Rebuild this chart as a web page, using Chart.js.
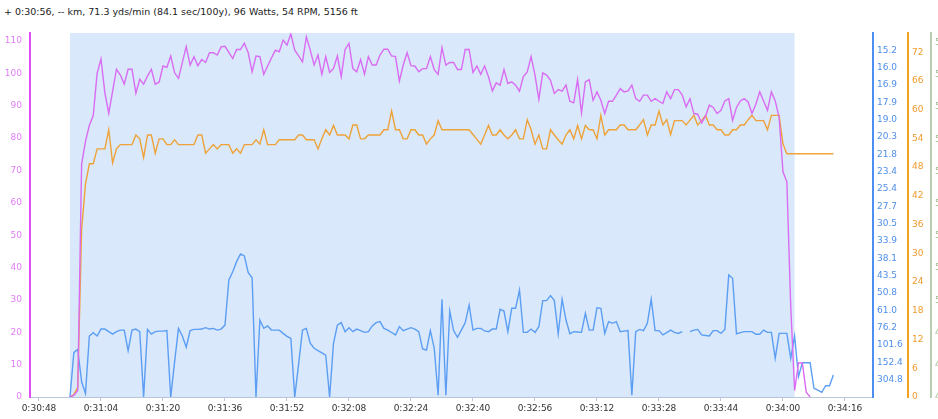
<!DOCTYPE html>
<html>
<head>
<meta charset="utf-8">
<script src="https://cdn.jsdelivr.net/npm/chart.js@4.4.1/dist/chart.umd.min.js"></script>
<style>
html,body{margin:0;padding:0;overflow:hidden;background:#fff;width:938px;height:419px;}
#summary{position:absolute;left:4px;top:6px;font:9.5px "DejaVu Sans",sans-serif;color:#222;white-space:nowrap;}
#chart{position:absolute;left:0;top:0;}
</style>
</head>
<body>
<div id="summary">+ 0:30:56, -- km, 71.3 yds/min (84.1 sec/100y), 96 Watts, 54 RPM, 5156 ft</div>
<canvas id="chart" width="975" height="419"></canvas>
<script>

// samples are one per second, starting at 0:30:56
const startSec = 1856;

const powerValues = [0,0.5,2,72,79,84,87,100,104.5,94,87.7,94.5,101.3,99.5,96.7,101.3,101.3,93.9,98.2,96.7,
99.2,101.3,96.7,97.3,102.3,101.9,105.4,100.2,98.5,103.4,108.3,102.6,105.2,102.4,104.3,103.4,106.4,106.4,105.7,108.2,
108.4,106.5,104.6,107.4,107.4,109.3,106.4,100.5,105.4,105.2,99.7,102.3,104.8,107.2,106.7,110.3,108.8,112.2,107.2,105.4,
103.6,111.3,107.2,102.6,105.7,99.7,105.2,100.3,101.5,105.4,99,107.4,109.3,101.5,100.5,104.3,99.8,105.2,102.6,102.6,
105.7,107.5,107.5,105.4,105.2,97.6,102.6,106.4,102.4,102.3,100.5,101.5,101.5,105.2,101.2,99.7,108,102.6,103.4,103.4,
101.2,101.2,107.4,107.4,100.3,102.3,99.7,102.3,99,94.6,97.1,96.4,101.2,96.9,97.4,96.4,94.5,99,100.5,105.2,
99.5,92,100.2,99.5,97.9,93.8,95,94.5,96.4,91.4,90.9,98.1,87.8,97.4,98.1,91.7,94.3,91.7,87.6,91.4,
91.4,93.3,95.3,94.3,94.6,96.4,92.2,91.4,93.3,93.3,91.4,92.2,91.4,90.7,94.3,92.2,95,95,93.3,89.7,
92.2,87.6,87.4,84.7,86.8,90.2,89.5,87.6,88.6,91.5,92.2,85.5,89.5,91.5,92.2,91.2,87.6,90.5,94.3,91.5,
88.6,94.3,91.5,86.4,69.6,66.5,28,2,10.5,10.5,1.5,0];

const cadenceValues = [0,0.5,2,35,44.5,48.7,48.7,51.8,51.8,51.8,55.8,48.9,51.8,52.7,52.7,52.7,52.7,54.7,53.9,50,
54.7,54.7,50.9,53.9,53.9,52.7,52.7,53.7,52.7,52.7,52.7,52.7,52.7,54.7,54.7,50.9,51.8,52.7,51.8,52.7,
52.7,52.7,50.9,51.8,50.9,52.7,52.7,52.7,53.7,52.8,55.8,52.7,52.7,52.7,53.7,53.7,53.7,53.7,53.7,54.7,
54.7,53.7,53.7,53.7,51.8,53.9,55.8,54.7,56.7,54.7,54.7,54.7,53.9,56.8,56.8,53.9,53.9,54.7,54.7,54.7,
54.7,55.8,55.8,59.7,55.8,55.8,53.9,53.9,55.8,55.8,54.7,54.7,52.8,53.9,54.7,57.7,55.8,55.8,55.8,55.8,
55.8,55.8,55.8,55.8,54.8,53.8,52.8,54.7,56.7,54.7,54.7,55.8,54.7,53.9,54.7,55.8,53.9,53.9,57.9,55.8,
52.8,54.7,51.8,51.8,55.8,54.7,53.7,52.8,54.7,55.8,53.9,56.7,53.9,56.7,55.8,55.8,53.9,58.8,54.7,55.8,
55.8,55.8,56.8,56.8,55.8,55.8,55.8,56.8,57.9,54.7,56.8,56.8,59.7,56.8,57.9,54.8,57.7,57.7,57.7,56.8,
57.8,58.8,56.8,57.7,58.8,56.8,56.8,55.8,55.8,54.7,54.7,55.8,55.8,56.8,56.8,57.9,58.8,57.7,57.7,57.7,
55.8,58.8,58.8,58.8,52.8,50.8,50.8,50.8,50.8,50.8,50.8,50.8,50.8,50.8,50.8,50.8,50.8,50.8];

// speed in axis units (labels show pace)
const speedValues = [0,2.56,2.75,0.88,0.2,3.52,3.71,3.52,3.92,3.92,3.77,3.63,3.77,3.86,3.86,2.67,3.86,3.92,3.77,0,
3.9,3.63,3.77,3.8,3.8,3.83,0,2.04,3.96,3.52,2.87,3.83,3.9,3.9,3.92,4.0,3.92,3.96,3.86,3.92,
4.15,6.75,7.23,7.81,8.25,8.14,7.17,6.88,0,4.44,3.96,4.1,3.86,3.86,3.86,3.67,3.5,3.38,0,1.9,
3.86,3.96,3.1,2.81,2.68,2.55,2.42,0,3.1,4.15,4.29,3.77,4.0,3.77,3.92,3.83,3.73,3.77,4.1,4.29,
4.35,3.96,3.86,3.72,3.58,4.06,3.83,3.92,4.0,3.92,3.77,2.77,2.71,3.83,2.81,0.1,5.64,0.1,4.96,3.83,
3.44,3.86,4.29,5.31,3.86,3.96,3.96,3.81,3.77,3.92,3.92,5.06,4.96,3.77,5.12,5.12,6.17,3.73,3.73,3.92,
3.73,4.06,5.56,5.56,5.85,5.56,3.65,5.64,4.44,3.65,3.77,3.75,3.73,4.83,3.86,3.86,5.15,5.12,3.67,4.35,
4.25,4.35,3.77,3.8,3.83,0.1,3.77,3.9,3.83,4.25,5.64,3.83,3.83,3.58,3.71,3.86,3.73,3.67,3.77,null,
3.77,3.86,3.9,3.58,3.55,3.52,3.83,3.83,3.67,3.9,7.04,6.85,3.65,3.71,3.77,3.77,3.77,3.62,3.62,3.86,
3.73,3.73,2.23,3.67,3.67,3.67,2.23,3.52,1.17,1.98,1.98,1.98,0.5,0.4,0.27,0.65,0.65,1.27];

const xTickSecs = [1848,1864,1880,1896,1912,1928,1944,1960,1976,1992,2008,2024,2040,2056];
const powerTicks = [0,10,20,30,40,50,60,70,80,90,100,110];
const cadenceTicks = [0,6,12,18,24,30,36,42,48,54,60,66,72];
const speedTicks = [1,2,3,4,5,6,7,8,9,10,11,12,13,14,15,16,17,18,19,20];
const paceLabels = ['304.8','152.4','101.6','76.2','61.0','50.8','43.5','38.1','33.9','30.5',
'27.7','25.4','23.4','21.8','20.3','19.0','17.9','16.9','16.0','15.2'];
const altTicks = [4940,4960,4980,5000,5020,5040,5060,5080,5100,5120,5140,5160];

// highlighted interval
const selStart = 1856;
const selEnd = 2043;

function fmtTime(s){
  let h = Math.floor(s/3600);
  let m = Math.floor((s%3600)/60);
  let sec = s%60;
  return h+':'+String(m).padStart(2,'0')+':'+String(sec).padStart(2,'0');
}

function toPoints(values){
  return values.map((v,i)=>({x:startSec+i, y:v}));
}

function fixTicks(list){
  return function(scale){ scale.ticks = list.map(v=>({value:v})); };
}

const selectionShade = {
  id:'selectionShade',
  beforeDatasetsDraw(chart){
    const {ctx, chartArea, scales} = chart;
    let x0 = scales.x.getPixelForValue(selStart);
    let x1 = scales.x.getPixelForValue(selEnd);
    ctx.save();
    ctx.fillStyle = '#d9e8fb';
    ctx.fillRect(x0, chartArea.top, x1-x0, chartArea.bottom-chartArea.top);
    ctx.restore();
  }
};

Chart.defaults.font.family = '"DejaVu Sans", sans-serif';
Chart.defaults.font.size = 9;

const ctx = document.getElementById('chart');

new Chart(ctx,{
  type:'line',
  data:{
    datasets:[
      {label:'Power', data:toPoints(powerValues), yAxisID:'yPower', borderColor:'#d96cf2', borderWidth:1.4},
      {label:'Cadence', data:toPoints(cadenceValues), yAxisID:'yCad', borderColor:'#eea33a', borderWidth:1.4},
      {label:'Speed', data:toPoints(speedValues), yAxisID:'ySpeed', borderColor:'#5c9ef3', borderWidth:1.4}
    ]
  },
  options:{
    responsive:false,
    animation:false,
    devicePixelRatio:1,
    layout:{padding:{top:33,left:0,right:0,bottom:0}},
    elements:{point:{radius:0}, line:{tension:0}},
    spanGaps:false,
    plugins:{legend:{display:false}, tooltip:{enabled:false}},
    scales:{
      x:{
        type:'linear', position:'bottom', min:1845.68, max:2063.23,
        afterBuildTicks:fixTicks(xTickSecs),
        afterFit:(s)=>{ s.height = 22; },
        ticks:{color:'#333', padding:2, maxRotation:0, autoSkip:false, callback:(v)=>fmtTime(v)},
        grid:{drawOnChartArea:false, color:'#b8c6dc', tickLength:4},
        border:{color:'#b8c6dc', width:1}
      },
      yPower:{
        type:'linear', position:'left', min:0, max:112.5,
        afterBuildTicks:fixTicks(powerTicks),
        afterFit:(s)=>{ s.width = 30; },
        ticks:{color:'#e27cf6', padding:8},
        grid:{drawOnChartArea:false, drawTicks:false},
        border:{color:'#e04ef6', width:2}
      },
      ySpeed:{
        type:'linear', position:'right', weight:0, min:0, max:21,
        afterBuildTicks:fixTicks(speedTicks),
        afterFit:(s)=>{ s.width = 35; },
        ticks:{color:'#4f8fea', padding:4, callback:(v)=>paceLabels[speedTicks.indexOf(v)]},
        grid:{drawOnChartArea:false, drawTicks:false},
        border:{color:'#4d8ff0', width:2}
      },
      yCad:{
        type:'linear', position:'right', weight:1, min:0, max:76,
        afterBuildTicks:fixTicks(cadenceTicks),
        afterFit:(s)=>{ s.width = 23; },
        ticks:{color:'#f09a2c', padding:4},
        grid:{drawOnChartArea:false, drawTicks:false},
        border:{color:'#f4a020', width:2}
      },
      yAlt:{
        type:'linear', position:'right', weight:2, min:4940, max:5166,
        afterBuildTicks:fixTicks(altTicks),
        afterFit:(s)=>{ s.width = 44; },
        ticks:{color:'#9dbd8e', padding:4},
        grid:{drawOnChartArea:false, drawTicks:false},
        border:{color:'#b9ceb0', width:2}
      }
    }
  },
  plugins:[selectionShade]
});

</script>
</body>
</html>
